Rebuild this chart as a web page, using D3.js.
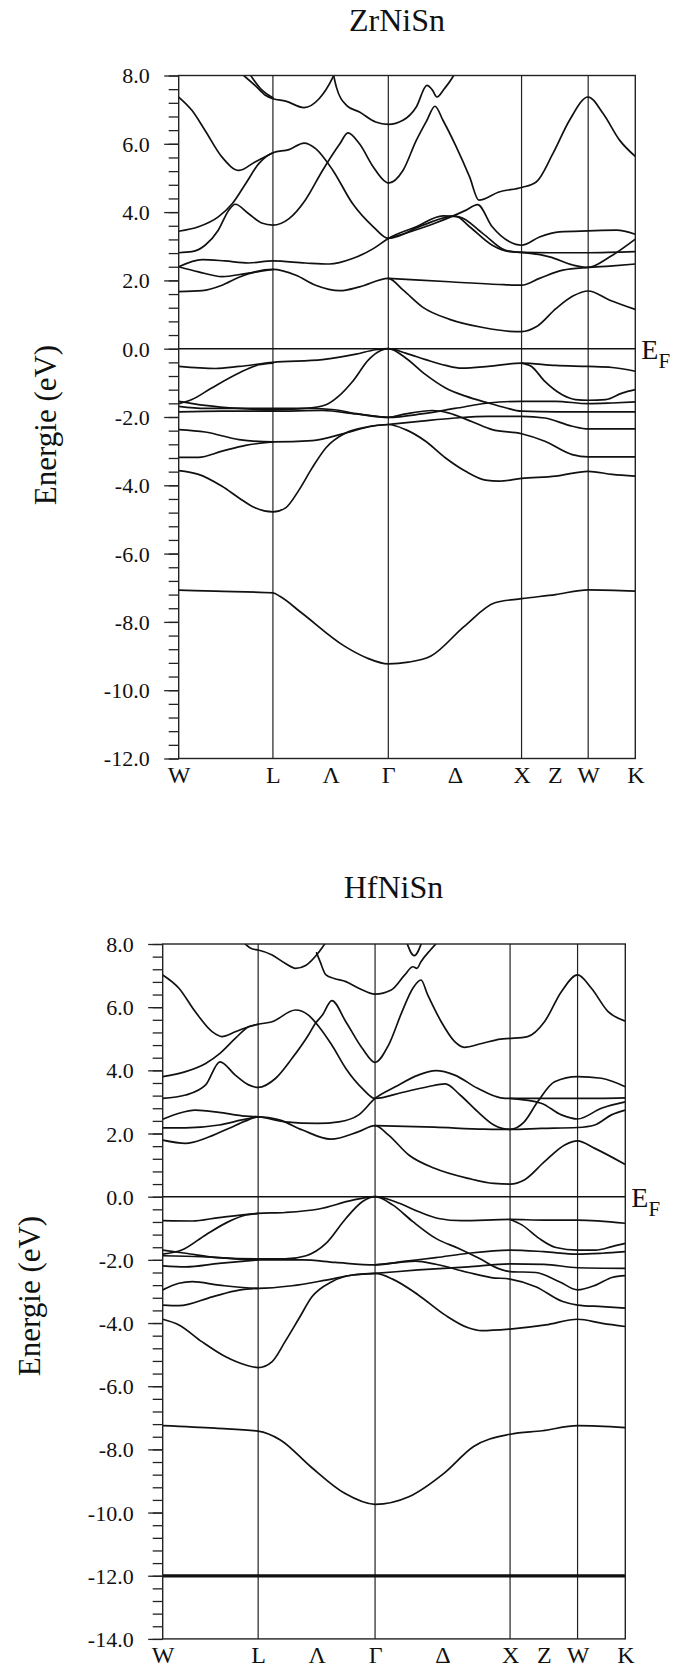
<!DOCTYPE html>
<html>
<head>
<meta charset="utf-8">
<script src="https://cdn.jsdelivr.net/npm/d3@7"></script>
<style>
  html, body { margin: 0; padding: 0; background: #fff; }
  svg { display: block; }
  svg text { font-family: 'Liberation Serif', 'Times New Roman', Times, serif; }
</style>
</head>
<body>
<svg id="fig" width="675" height="1668"></svg>
<script>
// ---- k-path (fcc Brillouin zone): W - L - Γ - X - W - K ----
// band points are given as [path position, energy in eV]; path position counts
// segments between the high-symmetry points (0 = W, 1 = L, 2 = Γ, 3 = X, 4 = W, 5 = K)
const kDist = [0, 0.7071, 1.5731, 2.5731, 3.0731, 3.4267];   // cumulative |k| (2π/a)
const kLabels = ["W", "L", "Λ", "Γ", "Δ", "X", "Z", "W", "K"];
const kLabelPos = [0, 1, 1.5, 2, 2.5, 3, 3.5, 4, 5];
const kLines = [1, 2, 3, 4];

const zrTicks = [8, 6, 4, 2, 0, -2, -4, -6, -8, -10, -12];
const hfTicks = [8, 6, 4, 2, 0, -2, -4, -6, -8, -10, -12, -14];

// ---------------- ZrNiSn ----------------
const zrC1 = [[0,1.67],[0.25,1.70],[0.46,1.86],[0.64,2.09],[0.81,2.25],[1,2.32],[1.20,2.15],[1.37,1.86],[1.58,1.70],[1.75,1.81],[2,2.06],[2.11,1.72],[2.26,1.21],[2.46,0.86],[2.71,0.62],[2.91,0.51],[3,0.50],[3.22,0.64],[3.52,1.18],[3.77,1.54],[4,1.69],[4.46,1.42],[5,1.15]];
const zrC2a = [[0,2.40],[0.21,2.25],[0.46,2.11],[0.71,2.20],[1,2.32]];
const zrC2b = [[2,2.06],[2.46,1.96],[2.83,1.88],[3,1.86],[3.27,2.06],[3.62,2.30],[4,2.38],[4.46,2.42],[5,2.48]];
const zrC3 = [[0,2.40],[0.25,2.61],[0.49,2.57],[0.74,2.51],[1,2.57],[1.28,2.51],[1.49,2.48],[1.69,2.64],[1.87,2.93],[2,3.23],[2.21,3.57],[2.41,3.89],[2.53,3.86],[2.71,3.37],[2.88,2.88],[3,2.82],[3.42,2.81],[4,2.81],[5,2.84]];
const zrC4 = [[0,2.81],[0.14,2.84],[0.28,3.03],[0.42,3.47],[0.53,4.05],[0.60,4.23],[0.74,3.96],[0.88,3.68],[1,3.62],[1.14,3.81],[1.28,4.35],[1.43,5.22],[1.58,6.00],[1.65,6.32],[1.75,6.00],[1.87,5.32],[1.96,4.93],[2,4.85],[2.11,5.22],[2.21,6.10],[2.29,6.69],[2.35,7.10],[2.41,6.69],[2.51,5.91],[2.61,5.03],[2.68,4.35],[2.83,4.59],[3,4.72],[3.22,4.88],[3.47,5.71],[3.72,6.69],[4,7.37],[4.32,6.88],[4.67,6.10],[5,5.63]];
const zrC5 = [[0,3.44],[0.21,3.57],[0.42,3.86],[0.57,4.25],[0.71,4.83],[0.85,5.42],[1,5.74],[1.14,5.83],[1.27,6.02],[1.37,5.86],[1.52,5.22],[1.69,4.25],[1.87,3.57],[2,3.23],[2.26,3.62],[2.50,3.89],[2.61,3.57],[2.78,3.03],[2.91,2.84],[3,2.82],[3.42,2.69],[3.77,2.45],[4,2.38],[4.46,2.69],[5,3.21]];
const zrC6 = [[0,7.37],[0.14,6.98],[0.28,6.39],[0.46,5.61],[0.64,5.22],[0.81,5.47],[1,5.74]];
const zrC7 = [[0.69,8.0],[0.81,7.71],[0.92,7.42],[1,7.32],[1.11,7.25],[1.27,7.06],[1.40,7.32],[1.52,7.95],[1.54,8.1]];
const zrC7b = [[0.74,8.1],[0.87,7.61],[1,7.35]];
const zrC8 = [[1.52,8.1],[1.55,7.66],[1.64,7.12],[1.75,6.93],[1.89,6.64],[2,6.57],[2.11,6.69],[2.21,7.08],[2.29,7.71],[2.33,7.58],[2.365,7.37],[2.42,7.61],[2.49,8.0],[2.51,8.15]];
const zrC12 = [[2,3.23],[2.34,3.66],[2.58,4.05],[2.67,4.22],[2.78,3.57],[2.91,3.13],[3,3.03],[3.27,3.27],[3.57,3.42],[4,3.45],[4.60,3.47],[5,3.35]];

const zrV1 = [[0,-0.52],[0.39,-0.58],[0.64,-0.52],[1,-0.40],[1.43,-0.32],[1.72,-0.16],[1.89,-0.03],[2,0],[2.13,-0.13],[2.28,-0.32],[2.43,-0.49],[2.55,-0.57],[2.75,-0.52],[3,-0.42],[3.51,-0.49],[4,-0.52],[4.51,-0.55],[5,-0.66]];
const zrV2a = [[0,-1.61],[0.14,-1.49],[0.35,-1.15],[0.64,-0.71],[0.85,-0.47],[1,-0.42]];
const zrV2b = [[3,-0.42],[3.15,-0.52],[3.35,-0.96],[3.61,-1.35],[3.81,-1.49],[4,-1.51],[4.37,-1.49],[4.72,-1.30],[5,-1.20]];
const zrV3 = [[0,-1.54],[0.28,-1.66],[0.64,-1.75],[1,-1.79],[1.28,-1.75],[1.46,-1.64],[1.57,-1.39],[1.69,-0.96],[1.83,-0.32],[1.93,-0.06],[2,0],[2.13,-0.27],[2.28,-0.76],[2.43,-1.15],[2.58,-1.39],[2.75,-1.59],[2.88,-1.73],[3,-1.83],[3.51,-1.85],[4,-1.85],[5,-1.85]];
const zrV4 = [[0,-1.69],[0.28,-1.75],[1,-1.75],[1.28,-1.75],[1.51,-1.78],[1.74,-1.91],[2,-2.01],[2.25,-1.91],[2.50,-1.75],[2.75,-1.59],[3,-1.54],[3.51,-1.54],[4,-1.61],[4.51,-1.59],[5,-1.56]];
const zrV5 = [[0,-1.85],[0.46,-1.83],[1,-1.83],[1.43,-1.81],[1.72,-1.91],[2,-2.01],[2.13,-1.91],[2.33,-1.81],[2.45,-1.88],[2.63,-2.14],[2.78,-2.37],[3,-2.49],[3.35,-2.71],[3.76,-3.10],[4,-3.17],[5,-3.17]];
const zrV6 = [[0,-2.37],[0.28,-2.44],[0.64,-2.66],[1,-2.73],[1.34,-2.69],[1.63,-2.47],[1.86,-2.27],[2,-2.22],[2.25,-2.12],[2.50,-2.03],[2.75,-1.98],[3,-1.98],[3.35,-2.03],[3.76,-2.27],[4,-2.35],[5,-2.35]];
const zrV7 = [[0,-3.18],[0.21,-3.18],[0.46,-3.00],[0.71,-2.83],[1,-2.73]];
const zrV8 = [[0,-3.57],[0.21,-3.68],[0.46,-4.03],[0.64,-4.37],[0.81,-4.66],[1,-4.78],[1.11,-4.66],[1.22,-4.17],[1.34,-3.49],[1.46,-2.90],[1.63,-2.47],[1.80,-2.30],[2,-2.22],[2.13,-2.37],[2.28,-2.71],[2.43,-3.20],[2.58,-3.59],[2.73,-3.85],[2.83,-3.88],[3,-3.80],[3.51,-3.73],[4,-3.59],[4.51,-3.68],[5,-3.73]];
const zrS = [[0,-7.07],[0.39,-7.10],[1,-7.15],[1.06,-7.25],[1.25,-7.74],[1.62,-8.71],[1.81,-9.05],[2,-9.23],[2.15,-9.18],[2.32,-9.00],[2.57,-8.13],[2.80,-7.44],[3,-7.32],[3.51,-7.20],[4,-7.06],[5,-7.10]];

// ---------------- HfNiSn ----------------
const hfC1 = [[0,1.79],[0.24,1.69],[0.45,1.85],[0.69,2.16],[0.87,2.40],[1,2.53],[1.18,2.43],[1.38,2.11],[1.62,1.82],[1.86,2.06],[2,2.25],[2.10,1.95],[2.25,1.32],[2.44,0.90],[2.69,0.58],[2.88,0.42],[3,0.40],[3.21,0.53],[3.51,1.11],[3.81,1.64],[4,1.77],[4.36,1.53],[5,1.02]];
const hfC2a = [[0,2.18],[0.24,2.18],[0.59,2.27],[0.83,2.43],[1,2.53]];
const hfC2b = [[2,2.25],[2.44,2.20],[2.81,2.14],[3,2.13],[3.46,2.16],[4,2.19],[4.36,2.27],[4.71,2.59],[5,2.74]];
const hfC3 = [[0,2.45],[0.17,2.64],[0.34,2.74],[0.59,2.67],[0.83,2.56],[1,2.53],[1.23,2.37],[1.51,2.32],[1.69,2.37],[1.86,2.59],[2,3.11],[2.15,3.48],[2.32,3.85],[2.45,3.99],[2.59,3.85],[2.76,3.43],[2.93,3.13],[3,3.11],[3.46,3.11],[4,3.11],[5,3.13]];
const hfC3b = [[3,3.11],[3.46,2.96],[3.76,2.59],[4,2.46],[4.50,2.80],[5,3.00]];
const hfC4 = [[0,3.11],[0.24,3.22],[0.45,3.54],[0.60,4.27],[0.76,3.85],[0.90,3.54],[1,3.46],[1.15,3.75],[1.29,4.38],[1.43,5.12],[1.49,5.49],[1.55,5.75],[1.63,6.21],[1.75,5.54],[1.89,4.70],[2,4.25],[2.10,4.80],[2.20,5.86],[2.28,6.60],[2.34,6.86],[2.39,6.39],[2.49,5.54],[2.59,4.91],[2.66,4.73],[2.79,4.85],[2.93,4.99],[3,5.01],[3.26,5.07],[3.51,5.54],[3.76,6.49],[4,7.02],[4.29,6.60],[4.64,5.86],[5,5.56]];
const hfC5 = [[0,3.80],[0.24,3.96],[0.45,4.22],[0.60,4.54],[0.76,5.01],[0.90,5.38],[1,5.46],[1.12,5.54],[1.32,5.91],[1.43,5.75],[1.52,5.38],[1.63,4.80],[1.75,4.06],[1.89,3.43],[2,3.11],[2.20,3.30],[2.39,3.48],[2.52,3.57],[2.63,3.22],[2.76,2.69],[2.88,2.27],[3,2.13],[3.21,2.37],[3.41,3.01],[3.66,3.64],[4,3.80],[4.50,3.75],[5,3.48]];
const hfC6 = [[0,7.02],[0.17,6.60],[0.34,5.86],[0.52,5.22],[0.62,5.07],[0.76,5.22],[0.90,5.38],[1,5.46]];
const hfC7 = [[0.83,8.1],[0.94,7.84],[1,7.81],[1.12,7.65],[1.23,7.39],[1.32,7.23],[1.41,7.33],[1.51,7.70],[1.57,8.0],[1.59,8.1]];
const hfC8 = [[1.50,7.72],[1.53,7.44],[1.58,7.02],[1.65,6.91],[1.75,6.81],[1.86,6.60],[2,6.41],[2.12,6.54],[2.22,7.02],[2.28,7.28],[2.31,7.23],[2.34,7.44],[2.41,7.81],[2.45,8.0],[2.47,8.1]];
const hfC9 = [[2.23,8.1],[2.29,7.63],[2.35,8.1]];

const hfV1 = [[0,-0.76],[0.31,-0.77],[0.59,-0.66],[1,-0.53],[1.23,-0.50],[1.52,-0.39],[1.81,-0.11],[2,0],[2.18,-0.21],[2.32,-0.47],[2.47,-0.69],[2.64,-0.76],[3,-0.72],[3.50,-0.74],[4,-0.74],[5,-0.84]];
const hfV2a = [[0,-1.82],[0.20,-1.69],[0.45,-1.21],[0.69,-0.79],[0.87,-0.58],[1,-0.53]];
const hfV2b = [[3,-0.72],[3.18,-0.90],[3.43,-1.32],[3.68,-1.61],[4,-1.69],[4.38,-1.69],[4.72,-1.58],[5,-1.48]];
const hfV3 = [[0,-1.69],[0.24,-1.79],[0.59,-1.93],[1,-1.97],[1.23,-1.97],[1.41,-1.87],[1.58,-1.48],[1.75,-0.69],[1.89,-0.16],[2,0],[2.13,-0.26],[2.28,-0.79],[2.45,-1.32],[2.62,-1.64],[2.77,-1.95],[2.91,-2.27],[3,-2.37],[3.38,-2.40],[3.73,-2.69],[4,-2.95],[4.38,-2.80],[4.72,-2.56],[5,-2.50]];
const hfV4 = [[0,-1.87],[0.41,-1.90],[1,-2.0],[1.38,-2.0],[1.66,-2.08],[2,-2.16],[2.23,-2.04],[2.45,-1.93],[2.69,-1.79],[3,-1.69],[3.50,-1.74],[4,-1.82],[4.52,-1.79],[5,-1.74]];
const hfV5a = [[0,-2.19],[0.24,-2.22],[0.59,-2.11],[1,-2.0]];
const hfV5b = [[2,-2.16],[2.18,-2.08],[2.30,-2.04],[2.45,-2.14],[2.69,-2.40],[2.86,-2.56],[3,-2.61],[3.38,-2.85],[3.78,-3.32],[4,-3.43],[4.52,-3.48],[5,-3.53]];
const hfV6 = [[0,-2.95],[0.17,-2.74],[0.31,-2.69],[0.59,-2.80],[1,-2.90],[1.29,-2.82],[1.58,-2.64],[1.81,-2.48],[2,-2.43],[2.32,-2.32],[2.69,-2.22],[3,-2.13],[3.50,-2.14],[4,-2.25],[5,-2.27]];
const hfV7 = [[0,-3.43],[0.17,-3.45],[0.52,-3.17],[0.80,-2.96],[1,-2.90]];
const hfV8 = [[0,-3.88],[0.17,-4.06],[0.41,-4.59],[0.66,-5.07],[0.87,-5.33],[1,-5.41],[1.12,-5.22],[1.23,-4.59],[1.35,-3.85],[1.46,-3.17],[1.63,-2.69],[1.81,-2.48],[2,-2.43],[2.13,-2.61],[2.32,-3.11],[2.52,-3.75],[2.69,-4.15],[2.79,-4.24],[3,-4.19],[3.53,-4.06],[4,-3.88],[4.52,-4.01],[5,-4.11]];
const hfS = [[0,-7.25],[0.55,-7.33],[1,-7.42],[1.19,-7.70],[1.45,-8.55],[1.74,-9.39],[2,-9.74],[2.25,-9.50],[2.51,-8.76],[2.73,-7.91],[3,-7.52],[3.48,-7.41],[4,-7.25],[5,-7.31]];
// Hf 4f semicore states: a nearly degenerate pair of flat bands at -12 eV
const hf4fA = [[0,-11.98],[5,-11.98]];
const hf4fB = [[0,-12.03],[5,-12.03]];

const zrBands = [zrC1, zrC2a, zrC2b, zrC3, zrC4, zrC5, zrC6, zrC7, zrC7b, zrC8, zrC12,
                 zrV1, zrV2a, zrV2b, zrV3, zrV4, zrV5, zrV6, zrV7, zrV8, zrS];
const hfBands = [hfC1, hfC2a, hfC2b, hfC3, hfC3b, hfC4, hfC5, hfC6, hfC7, hfC8, hfC9,
                 hfV1, hfV2a, hfV2b, hfV3, hfV4, hfV5a, hfV5b, hfV6, hfV7, hfV8, hfS, hf4fA, hf4fB];

// ---------------- drawing ----------------
const svg = d3.select("#fig");
const serif = "'Liberation Serif', 'Times New Roman', Times, serif";
const ink = "#111";
const frameInk = "#222";

function panel(o) {
  const g = svg.append("g");
  const x = d3.scaleLinear()
    .domain(d3.range(kDist.length))
    .range(kDist.map(d => o.left + d / kDist[kDist.length - 1] * (o.right - o.left)));
  const y = d3.scaleLinear().domain([o.eMin, o.eMax]).range([o.bottom, o.top]);

  // title
  g.append("text")
    .attr("x", o.titleX).attr("y", o.titleY)
    .attr("text-anchor", "middle")
    .attr("font-family", serif).attr("font-size", 32).attr("fill", ink)
    .text(o.title);

  // energy axis label
  g.append("text")
    .attr("transform", `translate(${o.labelX},${o.labelY}) rotate(-90)`)
    .attr("text-anchor", "middle")
    .attr("font-family", serif).attr("font-size", 31).attr("fill", ink)
    .text("Energie (eV)");

  // minor ticks every 0.4 eV
  const minor = d3.range(0, Math.round((o.eMax - o.eMin) / 0.4) + 1).map(i => o.eMin + i * 0.4);
  g.append("g")
    .attr("transform", `translate(${o.left},0)`)
    .call(d3.axisLeft(y).tickValues(minor).tickSize(10).tickFormat(""))
    .call(s => s.select(".domain").remove())
    .call(s => s.selectAll("line").attr("stroke", frameInk).attr("stroke-width", 1.3));

  // major ticks with labels
  g.append("g")
    .attr("transform", `translate(${o.left},0)`)
    .call(d3.axisLeft(y).tickValues(o.ticks).tickSize(14.5).tickPadding(14.5)
      .tickFormat(d => d3.format(".1f")(d).replace("−", "-")))
    .attr("font-family", serif).attr("font-size", 22)
    .call(s => s.select(".domain").remove())
    .call(s => s.selectAll("line").attr("stroke", frameInk).attr("stroke-width", 1.3))
    .call(s => s.selectAll("text").attr("fill", ink).attr("dy", "0.34em"));

  // k-point labels
  g.append("g")
    .attr("transform", `translate(0,${o.bottom})`)
    .call(d3.axisBottom(x).tickValues(kLabelPos).tickSize(0).tickPadding(7)
      .tickFormat((d, i) => kLabels[i]))
    .attr("font-family", serif).attr("font-size", 24)
    .call(s => s.select(".domain").remove())
    .call(s => s.selectAll("text").attr("fill", ink));

  // vertical lines at high-symmetry points
  g.append("g").selectAll("line").data(kLines).join("line")
    .attr("x1", d => x(d)).attr("x2", d => x(d))
    .attr("y1", o.top).attr("y2", o.bottom)
    .attr("stroke", frameInk).attr("stroke-width", 1.2);

  // Fermi level
  g.append("line")
    .attr("x1", o.left).attr("x2", o.right)
    .attr("y1", y(0)).attr("y2", y(0))
    .attr("stroke", ink).attr("stroke-width", 1.4);

  const ef = g.append("text")
    .attr("x", o.right + 6).attr("y", y(0) + 10)
    .attr("font-family", serif).attr("font-size", 28).attr("fill", ink);
  ef.append("tspan").text("E");
  ef.append("tspan").attr("dy", 9).attr("font-size", 21).text("F");

  // bands
  const clipId = "clip-" + o.title;
  g.append("clipPath").attr("id", clipId)
    .append("rect").attr("x", o.left).attr("y", o.top)
    .attr("width", o.right - o.left).attr("height", o.bottom - o.top);

  const line = d3.line()
    .x(d => x(d[0])).y(d => y(d[1]))
    .curve(d3.curveMonotoneX);

  g.append("g").attr("clip-path", `url(#${clipId})`)
    .selectAll("path").data(o.bands).join("path")
    .attr("d", line)
    .attr("fill", "none")
    .attr("stroke", ink)
    .attr("stroke-width", 1.7)
    .attr("stroke-linejoin", "round")
    .attr("stroke-linecap", "round");

  // frame
  g.append("rect")
    .attr("x", o.left).attr("y", o.top)
    .attr("width", o.right - o.left).attr("height", o.bottom - o.top)
    .attr("fill", "none").attr("stroke", frameInk).attr("stroke-width", 1.4);
}

panel({
  title: "ZrNiSn", titleX: 397, titleY: 31,
  labelX: 56, labelY: 425,
  left: 178.7, right: 635.3, top: 75.5, bottom: 758.5,
  eMin: -12, eMax: 8, ticks: zrTicks, bands: zrBands
});

panel({
  title: "HfNiSn", titleX: 393.5, titleY: 898,
  labelX: 39.5, labelY: 1296,
  left: 162.7, right: 625.3, top: 944, bottom: 1638.9,
  eMin: -14, eMax: 8, ticks: hfTicks, bands: hfBands
});
</script>
</body>
</html>
